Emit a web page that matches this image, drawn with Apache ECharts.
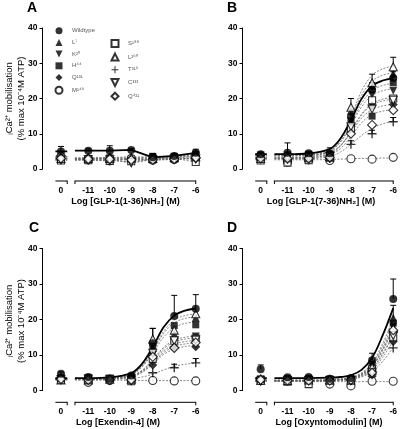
<!DOCTYPE html>
<html><head><meta charset="utf-8">
<script src="https://cdn.jsdelivr.net/npm/echarts@6/dist/echarts.min.js"></script>
<style>html,body{margin:0;padding:0;background:#fff}#c{width:400px;height:429px}</style>
</head><body><div id="c"></div>
<script>
// ---------- categories / labels ----------
const SERIES_NAMES = ['Wildtype','L⁷','K²⁰','H⁴⁴','Q¹³¹','M¹⁴⁹','S¹⁸⁸','L²⁶⁰','T³¹⁶','C³³³','Q⁴²¹'];
const DOSE_LABELS = ['0','-11','-10','-9','-8','-7','-6'];
const DOSE_X = [-12.27,-11,-10,-9,-8,-7,-6];          // "0" (basal) sits on the short broken segment
const CURVE_X = [-11.62,-11,-10,-9,-8.5,-8,-7.5,-7,-6.5,-6];
const BASAL_SEG = [-12.53,-11.98];
const MAIN_SEG = [-11.62,-6];
const Y_TICKS = [0,10,20,30,40];
const X_TITLES = ['Log [GLP-1(1-36)NH₂] (M)','Log [GLP-1(7-36)NH₂] (M)','Log [Exendin-4] (M)','Log [Oxyntomodulin] (M)'];
const LETTERS = ['A','B','C','D'];

// ---------- series values (order = SERIES_NAMES), columns = DOSE_LABELS ----------
const A_points = [
 [5.0,5.2,5.2,5.4,3.3,3.7,4.6],
 [3.0,3.0,3.2,3.5,3.3,3.5,4.0],
 [2.8,2.8,3.0,1.6,3.0,3.2,3.5],
 [3.2,3.0,3.0,3.0,3.6,3.6,4.2],
 [3.5,3.2,3.3,3.0,3.0,3.4,3.8],
 [3.6,2.6,2.3,3.0,2.5,2.7,3.1],
 [2.4,2.5,2.3,2.2,2.8,3.0,2.0],
 [3.0,3.0,3.0,3.2,3.0,3.3,3.5],
 [2.8,2.7,2.8,2.6,2.8,3.0,3.0],
 [2.6,2.6,2.6,1.8,2.6,2.8,2.8],
 [3.0,2.8,2.8,2.6,2.6,2.8,3.2]];
const A_err = {0:[1.4,0.5,1.4,0.4,0.8,0.4,1.0], 3:[0,0,0,0,0.8,0,0]};

const B_points = [
 [4.2,4.6,4.5,4.5,14.8,22.5,25.8],
 [4.0,4.0,4.2,4.2,16.5,23.5,27.0],
 [3.8,3.8,4.0,4.0,13.5,21.0,22.2],
 [3.5,3.5,3.8,3.8,13.0,15.0,24.5],
 [3.8,4.0,4.0,3.8,12.5,18.0,18.3],
 [2.8,2.0,2.6,2.4,2.9,2.8,3.3],
 [2.4,1.8,2.5,3.2,11.5,19.5,20.0],
 [3.0,3.2,3.2,3.5,17.5,24.5,29.0],
 [3.0,2.8,3.0,3.0,7.0,10.0,13.4],
 [3.2,3.2,3.3,3.5,12.0,17.0,19.5],
 [3.0,3.0,3.0,3.3,10.0,12.5,16.7]];
const B_err = {0:[0.4,2.8,0.5,1.5,2.0,2.0,1.8], 7:[0,0,0,0,2.5,2.4,2.7], 8:[0,0,0,0,1.0,1.0,1.2]};
const B_curve = [
 [4.2,4.2,4.4,5.7,8.6,13.8,19.9,23.6,25.1,25.8],
 [4.0,4.0,4.2,5.6,8.7,14.3,20.9,24.9,26.6,27.3],
 [3.8,3.8,4.0,5.1,7.6,12.2,17.6,20.9,22.2,22.8],
 [3.6,3.6,3.8,5.1,7.8,12.8,18.6,22.2,23.7,24.3],
 [3.8,3.8,3.9,4.8,6.7,10.3,14.4,16.9,17.9,18.4],
 [2.6,2.6,2.6,2.7,2.8,2.9,3.0,3.0,3.1,3.1],
 [3.0,3.0,3.2,4.2,6.5,10.7,15.6,18.6,19.8,20.3],
 [3.2,3.2,3.5,5.0,8.5,14.8,22.1,26.6,28.4,29.2],
 [2.8,2.8,2.9,3.5,4.8,7.0,9.5,11.5,12.8,13.5],
 [3.2,3.2,3.4,4.4,6.6,10.6,15.3,18.2,19.3,19.8],
 [3.0,3.0,3.1,4.0,5.8,9.2,13.1,15.5,16.4,16.9]];

const C_points = [
 [4.7,3.8,3.3,4.2,13.3,21.0,23.0],
 [3.5,3.5,3.3,3.5,12.0,16.0,20.5],
 [3.2,3.3,3.2,3.3,10.0,13.5,15.2],
 [3.6,3.6,3.4,3.6,12.5,18.3,18.5],
 [3.3,3.2,3.0,3.0,7.2,12.2,12.3],
 [3.3,2.3,2.8,2.8,2.8,2.7,2.7],
 [3.0,3.0,3.4,2.6,8.9,14.0,14.6],
 [3.0,3.0,3.2,3.2,14.5,17.0,21.6],
 [3.2,3.2,3.0,3.0,5.0,6.4,7.8],
 [3.0,3.2,3.0,2.8,10.5,14.0,14.2],
 [3.2,3.0,3.0,3.0,9.5,12.0,13.5]];
const C_err = {0:[0.5,0.4,0.4,0.5,4.2,5.8,4.0], 7:[0,0,0,0,3.0,0,0], 8:[0,0,0,0,0,1.0,1.2]};
const C_curve = [
 [3.5,3.5,3.7,4.9,7.5,12.2,17.8,21.1,22.5,23.1],
 [3.3,3.3,3.5,4.5,6.8,11.1,16.0,19.1,20.3,20.8],
 [3.3,3.3,3.4,4.2,5.7,8.7,12.1,14.2,15.0,15.4],
 [3.4,3.4,3.6,4.5,6.6,10.5,15.0,17.7,18.9,19.3],
 [3.2,3.2,3.3,3.9,5.1,7.4,10.1,11.7,12.4,12.7],
 [2.9,2.9,2.9,2.9,2.8,2.8,2.8,2.8,2.8,2.8],
 [3.2,3.2,3.3,4.0,5.6,8.4,11.7,13.7,14.5,14.9],
 [3.3,3.3,3.5,4.6,7.0,11.4,16.6,19.8,21.1,21.6],
 [3.2,3.2,3.2,3.4,3.8,4.6,5.8,6.8,7.4,7.7],
 [3.2,3.2,3.3,4.0,5.4,8.0,11.1,13.0,13.8,14.1],
 [3.1,3.1,3.2,3.8,5.2,7.7,10.6,12.4,13.1,13.4]];

const D_points = [
 [6.0,3.7,3.8,3.3,3.5,8.5,25.8],
 [3.5,3.2,3.0,3.0,3.2,7.5,20.5],
 [3.0,3.0,3.0,3.0,3.0,5.5,18.0],
 [3.2,3.3,3.2,3.2,3.3,7.0,19.0],
 [3.0,3.0,3.0,3.0,3.0,4.0,13.8],
 [2.8,3.0,2.8,1.8,1.3,2.6,2.6],
 [3.0,2.5,1.8,2.8,2.8,6.0,15.0],
 [2.8,2.8,3.0,3.0,3.0,6.5,17.5],
 [3.2,2.8,2.8,2.8,2.8,4.5,12.0],
 [2.6,2.8,2.8,2.8,2.8,5.0,15.5],
 [3.0,2.8,2.8,2.8,3.0,5.0,17.0]];
const D_err = {0:[1.2,0.4,0.4,0.3,0.4,2.0,5.6], 1:[0,0,0,0,0,0,3.5], 3:[0,0,0,0,0,1.2,0]};
const D_curve = [
 [3.5,3.5,3.5,3.6,3.8,4.3,5.8,9.2,15.5,23.2],
 [3.0,3.0,3.0,3.1,3.3,3.7,5.0,7.8,13.2,20.3],
 [2.8,2.8,2.8,2.9,3.1,3.5,4.6,7.0,11.8,18.0],
 [2.9,2.9,2.9,3.0,3.2,3.6,4.8,7.4,12.5,18.8],
 [2.7,2.7,2.7,2.8,2.9,3.2,4.0,5.8,9.3,14.0],
 [2.6,2.6,2.5,2.5,2.5,2.5,2.5,2.5,2.5,2.5],
 [2.7,2.7,2.7,2.8,3.0,3.3,4.2,6.2,10.1,15.3],
 [2.8,2.8,2.8,2.9,3.1,3.5,4.5,6.8,11.5,17.5],
 [2.6,2.6,2.6,2.7,2.8,3.1,3.8,5.3,8.2,12.2],
 [2.7,2.7,2.7,2.8,3.0,3.3,4.3,6.3,10.4,15.8],
 [2.8,2.8,2.8,2.9,3.1,3.4,4.5,6.7,11.2,17.0]];

// ---------- styling ----------
const FONT = '"Liberation Sans", Arial, sans-serif';
const PLUS = 'path://M3.4,0H4.6V3.4H8V4.6H4.6V8H3.4V4.6H0V3.4H3.4Z';
const TRI_DOWN = 'path://M0,0L8,0L4,8Z';
const SYMBOLS = ['circle','triangle',TRI_DOWN,'rect','diamond','circle','rect','triangle',PLUS,TRI_DOWN,'diamond'];
const FILLED  = [1,1,1,1,1,0,0,0,1,0,0];
const SIZES   = [8,8,8,7,9,8,7,8,9,8,9];
const X_MIN = -13.13, X_MAX = -5.9, GRID_W = 155.4;

const PANELS = [
 {left:42.5,  top:28,    height:141,   off:12,   pts:A_points, err:A_err, curve:null},
 {left:242.5, top:28,    height:141,   off:12,   pts:B_points, err:B_err, curve:B_curve},
 {left:42.5,  top:248.5, height:142,   off:11.8, pts:C_points, err:C_err, curve:C_curve},
 {left:242.5, top:248.5, height:142,   off:11.8, pts:D_points, err:D_err, curve:D_curve}
];
const LAYOUT = [
 {letter:[27,8],   xt:[125.5,202], yt:98.5},
 {letter:[227,8],  xt:[321,202],   yt:null},
 {letter:[29,228], xt:[118,423],   yt:321},
 {letter:[227,228],xt:[329,423],   yt:null}
];

const grids=[], xAxes=[], yAxes=[], series=[], graphics=[];
PANELS.forEach((P, pi) => {
  grids.push({left:P.left, top:P.top, width:GRID_W, height:P.height});
  xAxes.push({gridIndex:pi, type:'value', min:X_MIN, max:X_MAX, offset:P.off,
    axisLine:{show:false}, axisTick:{show:false}, splitLine:{show:false},
    axisLabel:{customValues:DOSE_X, margin:5, fontSize:8.5, fontWeight:'bold', color:'#000', fontFamily:FONT,
      formatter:(v)=>{const k=DOSE_X.findIndex(d=>Math.abs(d-v)<1e-6); return k<0?'':DOSE_LABELS[k];}}});
  yAxes.push({gridIndex:pi, type:'value', min:0, max:40, interval:10,
    axisLine:{show:true, lineStyle:{color:'#000', width:1}},
    axisTick:{show:true, length:3, lineStyle:{color:'#000', width:1}},
    axisLabel:{margin:5, fontSize:8.5, fontWeight:'bold', color:'#000', fontFamily:FONT},
    splitLine:{show:false}});

  // broken x axis segments
  const off = P.off;
  series.push({type:'custom', xAxisIndex:pi, yAxisIndex:pi, silent:true, clip:false, z:1,
    data:[[BASAL_SEG[0],BASAL_SEG[1],0,1],[MAIN_SEG[0],MAIN_SEG[1],1,1]],
    encode:{x:[0,1]},
    renderItem:(params, api)=>{
      const a = api.coord([api.value(0),0]), b = api.coord([api.value(1),0]);
      const y = a[1]+off;
      const ch = [{type:'line', shape:{x1:a[0],y1:y,x2:b[0],y2:y}, style:{stroke:'#000',lineWidth:1}}];
      if (api.value(2)) ch.push({type:'line', shape:{x1:a[0],y1:y-0.5,x2:a[0],y2:y+3}, style:{stroke:'#000',lineWidth:1}});
      if (api.value(3)) ch.push({type:'line', shape:{x1:b[0],y1:y-0.5,x2:b[0],y2:y+3}, style:{stroke:'#000',lineWidth:1}});
      return {type:'group', children:ch};
    }});

  // curves (gray dashed, WT last = on top)
  const order = [1,2,3,4,5,6,7,8,9,10,0];
  order.forEach(i=>{
    const wt = i===0;
    let base, main;
    if (P.curve) {
      base = P.curve[i][0];
      main = CURVE_X.map((x,j)=>[x, P.curve[i][j]]);
    } else {
      base = P.pts[i][0];
      main = [[MAIN_SEG[0], P.pts[i][1]]].concat(DOSE_X.slice(1).map((x,j)=>[x, P.pts[i][j+1]]));
    }
    const data = [[BASAL_SEG[0],base],[BASAL_SEG[1],base],[-11.8,null]].concat(main);
    series.push({type:'line', xAxisIndex:pi, yAxisIndex:pi, silent:true, animation:false,
      showSymbol:false, symbol:'none', smooth: P.curve ? 0.35 : false, connectNulls:false,
      z: wt?3:2, data,
      lineStyle: wt ? {color:'#000', width:1.8, type:'solid'} : {color:'#6a6a6a', width:0.8, type:[2,1.5]}});
  });

  // error bars
  const errItems = [];
  Object.keys(P.err).forEach(k=>{
    const i=+k;
    P.err[k].forEach((e,j)=>{ if(e>0) errItems.push([DOSE_X[j], P.pts[i][j], e]); });
  });
  series.push({type:'custom', xAxisIndex:pi, yAxisIndex:pi, silent:true, clip:false, z:4,
    data:errItems, encode:{x:0, y:1},
    renderItem:(params, api)=>{
      const x=api.value(0), y=api.value(1), e=api.value(2);
      const p0=api.coord([x,y]), p1=api.coord([x,y+e]);
      return {type:'group', children:[
        {type:'line', shape:{x1:p0[0],y1:p0[1],x2:p1[0],y2:p1[1]}, style:{stroke:'#000',lineWidth:1}},
        {type:'line', shape:{x1:p1[0]-3,y1:p1[1],x2:p1[0]+3,y2:p1[1]}, style:{stroke:'#000',lineWidth:1}}]};
    }});

  // points (WT drawn last)
  order.forEach(i=>{
    series.push({type:'scatter', name:SERIES_NAMES[i], xAxisIndex:pi, yAxisIndex:pi, silent:true, animation:false,
      z: i===0?6:5,
      symbol:SYMBOLS[i], symbolSize:SIZES[i],
      itemStyle: FILLED[i] ? {color:'#000', borderWidth:0} : {color:'#fff', borderColor:'#000', borderWidth:1.1},
      data: DOSE_X.map((x,j)=>[x, P.pts[i][j]])});
  });

  // texts
  const L = LAYOUT[pi];
  graphics.push({type:'text', x:L.letter[0], y:L.letter[1], silent:true,
    style:{text:LETTERS[pi], font:'bold 14px '+FONT, fill:'#000', textAlign:'left', textVerticalAlign:'middle'}});
  graphics.push({type:'text', x:L.xt[0], y:L.xt[1], silent:true,
    style:{text:X_TITLES[pi], font:'bold 9px '+FONT, fill:'#000', textAlign:'center', textVerticalAlign:'middle'}});
  if (L.yt !== null) {
    graphics.push({type:'text', x:9, y:L.yt, rotation:Math.PI/2, silent:true,
      style:{text:'ᵢCa²⁺ mobilisation', font:'9.5px '+FONT, fill:'#000', textAlign:'center', textVerticalAlign:'middle'}});
    graphics.push({type:'text', x:21, y:L.yt, rotation:Math.PI/2, silent:true,
      style:{text:'(% max 10⁻⁴M ATP)', font:'9.5px '+FONT, fill:'#000', textAlign:'center', textVerticalAlign:'middle'}});
  }
});

const legendCommon = {orient:'vertical', itemWidth:7, itemHeight:7, itemGap:4.7, padding:0, selectedMode:false,
  textStyle:{fontSize:6, color:'#555', fontFamily:FONT, padding:[0,0,0,4.5]}};
const option = {
  animation:false,
  backgroundColor:'#fff',
  grid:grids, xAxis:xAxes, yAxis:yAxes, series,
  legend:[
    Object.assign({data:SERIES_NAMES.slice(0,6), left:54.5, top:27.2}, legendCommon),
    Object.assign({data:SERIES_NAMES.slice(6), left:110.5, top:38.9}, legendCommon)
  ],
  graphic:graphics
};
const chart = echarts.init(document.getElementById('c'), null, {renderer:'canvas'});
chart.setOption(option);
</script></body></html>
